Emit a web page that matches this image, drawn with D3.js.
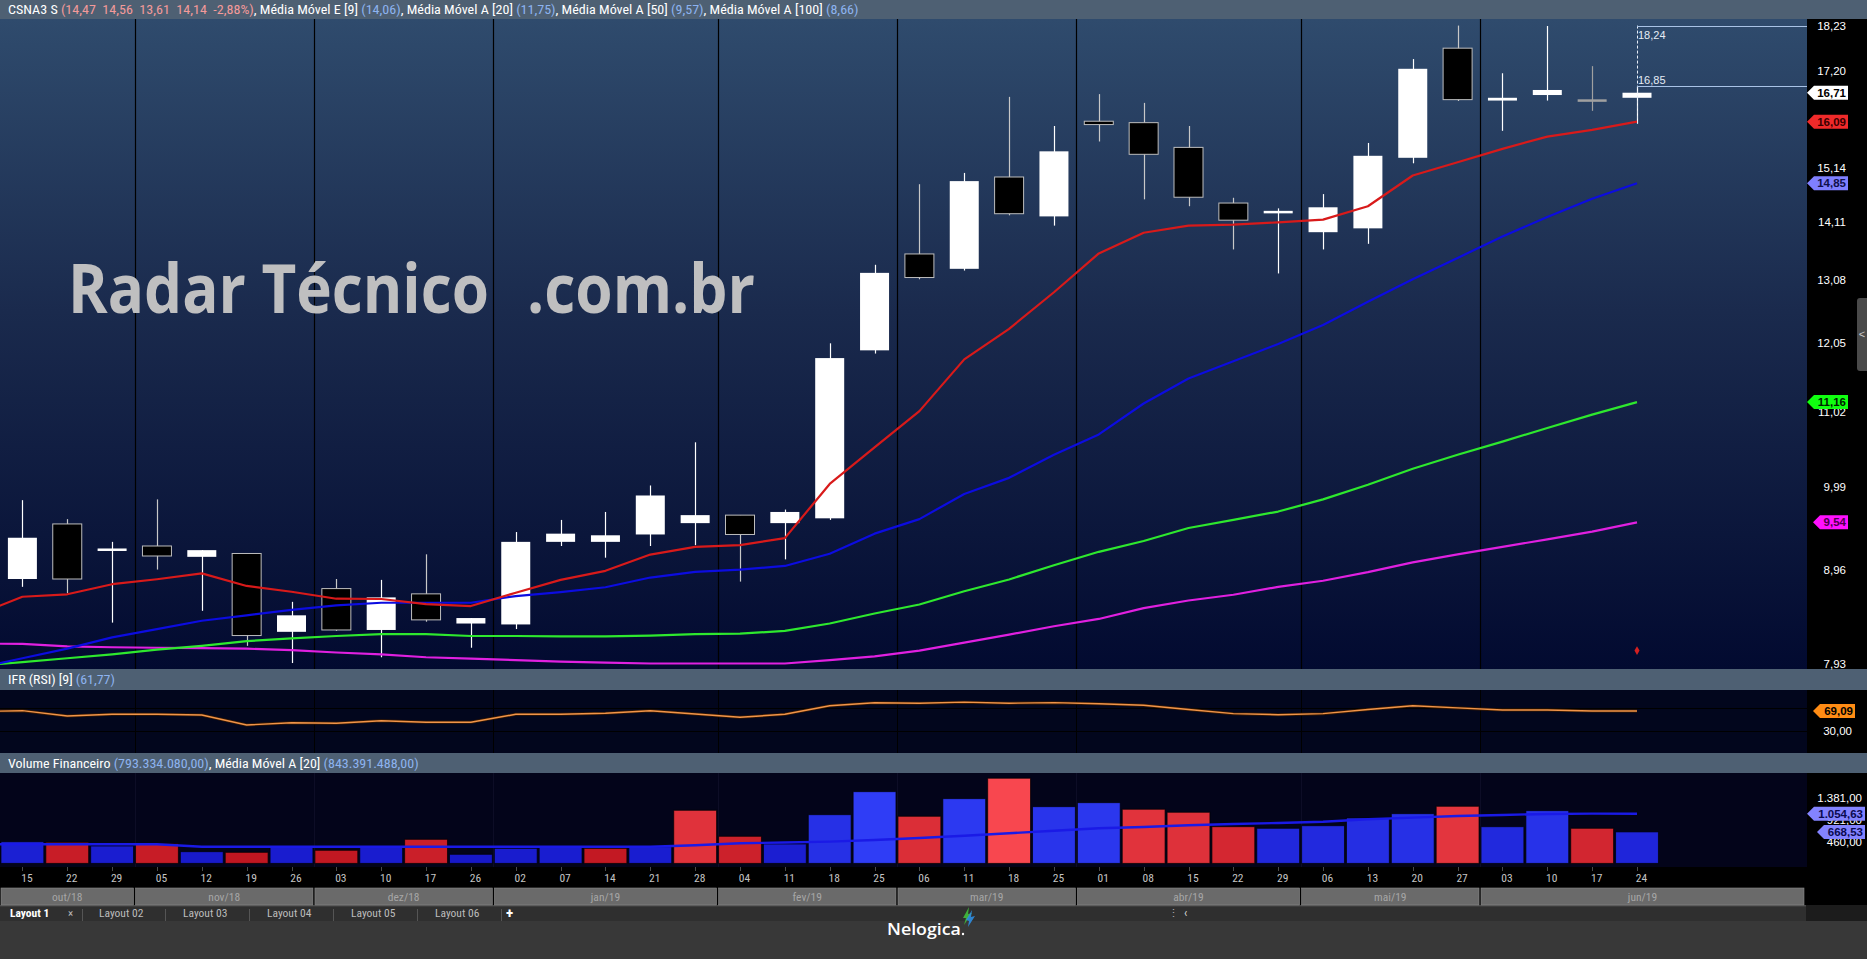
<!DOCTYPE html>
<html><head><meta charset="utf-8">
<script src="https://cdn.jsdelivr.net/npm/d3@7"></script>
<style>body{margin:0;background:#383838;overflow:hidden}svg{display:block}text{white-space:pre}</style>
</head><body>
<svg id="c" width="1867" height="959"></svg>
<script>
// ---------------- DATA ----------------
const dates = ["15","22","29","05","12","19","26","03","10","17","26","02","07","14","21","28","04","11","18","25","06","11","18","25","01","08","15","22","29","06","13","20","27","03","10","17","24"];
const monthLabels = ["out/18","nov/18","dez/18","jan/19","fev/19","mar/19","abr/19","mai/19","jun/19"];
const monthCounts = [3,4,4,5,4,4,5,4,4];

const open  = [8.86,9.52,9.19,9.25,9.12,9.16,8.27,8.75,8.29,8.69,8.36,8.35,9.30,9.30,9.39,9.53,9.63,9.53,9.59,11.94,13.54,13.28,14.97,14.22,16.10,16.07,15.56,14.47,14.29,13.93,14.00,15.35,17.71,16.54,16.66,16.54,16.60];
const high  = [9.82,9.58,9.30,9.83,9.20,9.16,8.60,8.86,8.85,9.15,8.42,9.42,9.57,9.67,10.01,10.59,9.63,9.70,12.05,13.35,14.83,15.05,16.62,16.00,16.68,16.49,16.00,14.57,14.37,14.64,15.65,17.46,18.24,17.14,18.23,17.30,16.85];
const low   = [8.77,8.70,8.37,8.97,8.50,8.12,7.94,8.28,8.00,8.38,8.10,8.30,9.25,9.11,9.25,9.26,8.83,9.09,9.57,11.89,13.10,13.25,14.24,14.05,15.68,14.54,14.41,13.62,13.20,13.62,13.72,15.24,16.53,15.90,16.54,16.32,16.05];
const close = [9.35,8.86,9.22,9.13,9.20,8.23,8.45,8.29,8.65,8.40,8.42,9.30,9.40,9.38,9.88,9.63,9.39,9.67,11.82,13.21,13.13,14.89,14.27,15.48,16.03,15.42,14.58,14.15,14.31,14.39,15.39,17.24,16.56,16.60,16.77,16.54,16.71];

// moving averages (value of the week before the first visible candle kept apart)
const ema9Prev = 8.46;
const ema9   = [8.657,8.685,8.80,8.857,8.925,8.78,8.714,8.635,8.632,8.575,8.553,8.703,8.85,8.955,9.147,9.239,9.26,9.345,10.03,10.52,11.03,11.80,12.28,12.88,13.55,13.92,14.05,14.07,14.11,14.16,14.41,15.00,15.26,15.53,15.78,15.92,16.09];
const sma20Prev = 7.89;
const sma20  = [7.99,8.09,8.21,8.30,8.39,8.45,8.51,8.56,8.59,8.59,8.59,8.665,8.71,8.765,8.877,8.943,8.97,9.012,9.157,9.40,9.58,9.90,10.11,10.42,10.70,11.14,11.51,11.77,12.04,12.34,12.72,13.10,13.47,13.85,14.21,14.55,14.85];
const sma50Prev = 7.91;
const sma50  = [7.95,7.99,8.03,8.08,8.12,8.17,8.20,8.225,8.245,8.245,8.225,8.225,8.22,8.22,8.23,8.245,8.25,8.28,8.36,8.47,8.57,8.72,8.855,9.02,9.18,9.31,9.47,9.57,9.675,9.83,10.02,10.23,10.42,10.60,10.79,10.98,11.16];
const sma100Prev = 8.145;
const sma100 = [8.14,8.115,8.105,8.10,8.095,8.09,8.075,8.05,8.03,8.00,7.985,7.97,7.955,7.945,7.935,7.935,7.935,7.935,7.97,8.01,8.07,8.155,8.24,8.33,8.41,8.53,8.615,8.68,8.77,8.84,8.94,9.055,9.15,9.24,9.33,9.425,9.54];

const rsiPrev = 68;
const rsi9 = [69.7,59.5,62.8,62.8,61.5,42.4,46.8,45.6,50.6,47.5,47.5,62.8,62.8,64.7,69.7,63.4,57.1,62.8,79.2,84.9,83.8,86,84,85,83,80,72,64,62,64,72,79,75,71,71,69,69.09];

// financial volume, millions
const volume = [461,448,369,418,249,235,341,278,341,511,193,320,354,320,354,1127,575,412,1034,1522,1000,1374,1807,1204,1289,1149,1085,779,745,800,964,1055,1212,779,1119,745,668.53];
const volMAPrev = 405;
const volumeMA20 = [405,405,405,405,354,354,354,354,354,354,354,354,354,354,354,384,427,444,461,497,539,588,639,694,745,773,809,837,858,885,936,970,1006,1028,1049,1055,1054.63];

const priceTicks  = [18.23,17.20,15.14,14.11,13.08,12.05,11.02,9.99,8.96,7.93];
const volumeTicks = [1381,921,460];
const rsiTicks    = [30];
const rsiGrid     = [75,30];
const measureLevels = [18.24,16.85];
const signalMarker = 8.07;

const headerMain = [["CSNA3 S ","#ffffff"],["(14,47  14,56  13,61  14,14  -2,88%)","#f39a9a"],[", Média Móvel E [9] ","#ffffff"],["(14,06)","#8db3ef"],[", Média Móvel A [20] ","#ffffff"],["(11,75)","#8db3ef"],[", Média Móvel A [50] ","#ffffff"],["(9,57)","#8db3ef"],[", Média Móvel A [100] ","#ffffff"],["(8,66)","#8db3ef"]];
const headerRsi = [["IFR (RSI) [9] ","#ffffff"],["(61,77)","#8db3ef"]];
const headerVol = [["Volume Financeiro ","#ffffff"],["(793.334.080,00)","#8db3ef"],[", Média Móvel A [20] ","#ffffff"],["(843.391.488,00)","#8db3ef"]];
const tabLabels = ["Layout 1","Layout 02","Layout 03","Layout 04","Layout 05","Layout 06"];

// ---------------- LAYOUT ----------------
const W = 1867, PR = 1807;
const MAIN = {top:19, bottom:669}, RSIP = {top:690, bottom:753}, VOLP = {top:773, bottom:867};
const FONT = "'Liberation Sans Narrow','Roboto Condensed','Liberation Sans',Arial,sans-serif";
const AXF = "'Liberation Sans',Arial,sans-serif";
const loc = d3.formatLocale({decimal:",", thousands:".", grouping:[3], currency:["",""]});
const f2 = loc.format(",.2f");

const svg = d3.select("#c");
const x = d3.scaleLinear().domain([0, dates.length-1]).range([22.4, 1637]);
const step = x(1) - x(0);
const y = d3.scaleLog().domain([7.93, 18.23]).range([664, 26]);
const yR = d3.scaleLinear().domain([0,100]).range([747.2, 694.8]);
const yV = d3.scaleLinear().domain([0,1381]).range([863.4, 798.3]);

const defs = svg.append("defs");
const gr = defs.append("linearGradient").attr("id","bg").attr("x1",0).attr("y1",0).attr("x2",0).attr("y2",1);
gr.append("stop").attr("offset","0%").attr("stop-color","#2f4b6d");
gr.append("stop").attr("offset","45%").attr("stop-color","#1a2a4d");
gr.append("stop").attr("offset","100%").attr("stop-color","#020a30");
defs.append("clipPath").attr("id","cm").append("rect").attr("x",0).attr("y",MAIN.top).attr("width",PR).attr("height",MAIN.bottom-MAIN.top);
defs.append("clipPath").attr("id","cr").append("rect").attr("x",0).attr("y",RSIP.top).attr("width",PR).attr("height",RSIP.bottom-RSIP.top);
defs.append("clipPath").attr("id","cv").append("rect").attr("x",0).attr("y",VOLP.top).attr("width",PR).attr("height",VOLP.bottom-VOLP.top);

function rect(g,x0,y0,w,h,fill){return g.append("rect").attr("x",x0).attr("y",y0).attr("width",w).attr("height",h).attr("fill",fill);}
function fit(t, target){const bb=t.node().getBBox(); if(bb.width>0){const s=target/bb.width; t.attr("transform",`translate(${bb.x},0) scale(${s},1) translate(${-bb.x},0)`);} }
function header(g, parts, x0, yb, size, target){
  const t = g.append("text").attr("x",x0).attr("y",yb).attr("font-family",FONT).attr("font-size",size);
  parts.forEach(p=>t.append("tspan").attr("fill",p[1]).text(p[0]));
  fit(t,target); return t;
}

// backgrounds
rect(svg,0,0,W,959,"#383838");
rect(svg,0,0,W,MAIN.top,"#4e6073");
rect(svg,0,MAIN.top,PR,MAIN.bottom-MAIN.top,"url(#bg)");
rect(svg,PR,MAIN.top,W-PR,MAIN.bottom-MAIN.top,"#000");
rect(svg,0,MAIN.bottom,W,RSIP.top-MAIN.bottom,"#4e6073");
rect(svg,0,RSIP.top,PR,RSIP.bottom-RSIP.top,"#02061d");
rect(svg,PR,RSIP.top,W-PR,RSIP.bottom-RSIP.top,"#000");
rect(svg,0,RSIP.bottom,W,VOLP.top-RSIP.bottom,"#4e6073");
rect(svg,0,VOLP.top,PR,VOLP.bottom-VOLP.top,"#03041a");
rect(svg,PR,VOLP.top,W-PR,VOLP.bottom-VOLP.top,"#000");
rect(svg,0,VOLP.bottom,W,905-VOLP.bottom,"#000");
rect(svg,0,905,1806,16,"#2f2f2f");
rect(svg,0,905,1806,1.5,"#4a4a4a");
rect(svg,1806,905,W-1806,16,"#1c1c1c");

// month boundaries
const bounds = []; let acc = 0;
monthCounts.forEach((c,i)=>{ if(i>0) bounds.push(acc); acc += c; });
const bx = bounds.map(b => Math.round(x(b-0.5))+0.5);

// gridlines
const grid = svg.append("g");
bx.forEach(v=>{
  grid.append("line").attr("x1",v).attr("x2",v).attr("y1",MAIN.top).attr("y2",MAIN.bottom).attr("stroke","#000").attr("stroke-width",1.2);
  grid.append("line").attr("x1",v).attr("x2",v).attr("y1",RSIP.top).attr("y2",RSIP.bottom).attr("stroke","#000");
  grid.append("line").attr("x1",v).attr("x2",v).attr("y1",VOLP.top).attr("y2",VOLP.bottom).attr("stroke","#0d0d26");
});
rsiGrid.forEach(v=>grid.append("line").attr("x1",0).attr("x2",PR).attr("y1",Math.round(yR(v))+0.5).attr("y2",Math.round(yR(v))+0.5).attr("stroke","#000"));

// watermark
const wm = svg.append("g").attr("fill","#bfbfc0").attr("font-family","'Open Sans',sans-serif").attr("font-weight","bold").attr("font-size",68);
fit(wm.append("text").attr("x",68).attr("y",313).text("Radar Técnico"),421);
fit(wm.append("text").attr("x",527).attr("y",313).text(".com.br"),228);

// ---------------- MAIN: candles ----------------
const main = svg.append("g").attr("clip-path","url(#cm)");
const candles = d3.range(dates.length).map(i=>({i,o:open[i],h:high[i],l:low[i],c:close[i]}));
const bw = 29;
candles.forEach(d=>{
  const up = d.c > d.o, dn = d.c < d.o;
  const wc = up ? "#ffffff" : dn ? "#c8c8c8" : "#a0a0a0";
  main.append("line").attr("x1",Math.round(x(d.i))+0.5).attr("x2",Math.round(x(d.i))+0.5)
    .attr("y1",y(d.h)).attr("y2",y(d.l)).attr("stroke",wc).attr("stroke-width",1.2);
  const top = y(Math.max(d.o,d.c)), bot = y(Math.min(d.o,d.c));
  const h = Math.max(2.5, bot-top);
  const yy = h === bot-top ? top : (top+bot)/2 - h/2;
  const r = main.append("rect").attr("x",x(d.i)-bw/2).attr("y",yy).attr("width",bw).attr("height",h);
  if(up) r.attr("fill","#fff");
  else if(dn) r.attr("fill","#000").attr("stroke","#bdbdbd").attr("stroke-width",1);
  else r.attr("fill","#a0a0a0");
});

// moving averages
function maLine(prev, arr, color){
  const pts = [prev].concat(arr);
  const ln = d3.line().x((d,k)=>x(k-1)).y(d=>y(d));
  main.append("path").attr("d",ln(pts)).attr("fill","none").attr("stroke",color).attr("stroke-width",2.2).attr("stroke-linejoin","round");
}
maLine(sma100Prev, sma100, "#e020e0");
maLine(sma50Prev, sma50, "#2ee82e");
maLine(sma20Prev, sma20, "#0c0ce0");
maLine(ema9Prev, ema9, "#d81a1a");

// signal marker
const last = dates.length-1;
main.append("path").attr("d",d3.symbol(d3.symbolDiamond,22)()).attr("transform",`translate(${x(last)},${y(signalMarker)})`).attr("fill","#d42020");

// measurement crosshair
const mg = svg.append("g");
mg.append("line").attr("x1",Math.round(x(last))+0.5).attr("x2",Math.round(x(last))+0.5)
  .attr("y1",y(measureLevels[0])).attr("y2",y(16.02)).attr("stroke","#e8eef8").attr("stroke-dasharray","3,2");
measureLevels.forEach((v,k)=>{
  const yy = Math.round(y(v))+0.5;
  mg.append("line").attr("x1",x(last)).attr("x2",PR).attr("y1",yy).attr("y2",yy).attr("stroke","#a9c3e6");
  mg.append("text").attr("x",x(last)+1).attr("y",k===0? yy+12 : yy-3).attr("fill","#e6ecf5").attr("font-family",AXF).attr("font-size",11).text(f2(v));
});

// price axis
const pa = svg.append("g").attr("font-family",AXF).attr("font-size",11.5).attr("fill","#fff").attr("text-anchor","end");
priceTicks.forEach(v=>pa.append("text").attr("x",1846).attr("y",y(v)+4).text(f2(v)));

function tag(g,tipX,yy,rightX,txt,bg,fg){
  const h=14;
  g.append("path").attr("d",`M${tipX},${yy}L${tipX+7},${yy-h/2}L${rightX},${yy-h/2}L${rightX},${yy+h/2}L${tipX+7},${yy+h/2}Z`).attr("fill",bg);
  g.append("text").attr("x",rightX-2).attr("y",yy+4).attr("text-anchor","end").attr("font-family",AXF).attr("font-weight","bold").attr("font-size",11.5).attr("fill",fg).text(txt);
}
const tags = svg.append("g");
tag(tags,1807,y(close[last]),1848,f2(close[last]),"#ffffff","#000");
tag(tags,1807,y(ema9[last]),1848,f2(ema9[last]),"#f02a2a","#3a0000");
tag(tags,1807,y(sma20[last]),1848,f2(sma20[last]),"#7f7fff","#10104a");
tag(tags,1807,y(sma50[last]),1848,f2(sma50[last]),"#10ff10","#002000");
tag(tags,1813,y(sma100[last]),1848,f2(sma100[last]),"#ff10ff","#4a004a");

// side handle
rect(svg,1857,298,12,73,"#4a4a4a").attr("rx",3);
svg.append("text").attr("x",1862).attr("y",338).attr("fill","#ccc").attr("font-family",AXF).attr("font-size",11).attr("text-anchor","middle").text("<");

// ---------------- RSI ----------------
const rg = svg.append("g").attr("clip-path","url(#cr)");
const rl = d3.line().x((d,k)=>x(k-1)).y(d=>yR(d));
const rpts = [rsiPrev].concat(rsi9);
rg.append("path").attr("d",rl(rpts)).attr("fill","none").attr("stroke","#3a1a00").attr("stroke-width",3);
rg.append("path").attr("d",rl(rpts)).attr("fill","none").attr("stroke","#f0944a").attr("stroke-width",1.4);
const ra = svg.append("g").attr("font-family",AXF).attr("font-size",11.5).attr("fill","#fff").attr("text-anchor","end");
rsiTicks.forEach(v=>ra.append("text").attr("x",1852).attr("y",yR(v)+4).text(f2(v)));
tag(svg.append("g"),1813,yR(rsi9[last]),1855,f2(rsi9[last]),"#ff8c14","#000");

// ---------------- VOLUME ----------------
const vg = svg.append("g").attr("clip-path","url(#cv)");
const vmax = d3.max(volume);
volume.forEach((v,i)=>{
  const upv = i===0 ? true : close[i] >= close[i-1];
  const t = Math.min(1, v/vmax);
  const col = upv ? d3.interpolateRgb("#1313c4","#3445ff")(t) : d3.interpolateRgb("#b80f1a","#f8474f")(t);
  vg.append("rect").attr("x",x(i)-step/2+1).attr("y",yV(v)).attr("width",step-2).attr("height",yV(0)-yV(v))
    .attr("fill",col).attr("stroke","#000").attr("stroke-opacity",0.7).attr("stroke-width",1);
});
const vl = d3.line().x((d,k)=>x(k-1)).y(d=>yV(d));
vg.append("path").attr("d",vl([volMAPrev].concat(volumeMA20))).attr("fill","none").attr("stroke","#1a1ae6").attr("stroke-width",2.4);
const va = svg.append("g").attr("font-family",AXF).attr("font-size",11.5).attr("fill","#fff").attr("text-anchor","end");
volumeTicks.forEach(v=>va.append("text").attr("x",1862).attr("y",yV(v)+4).text(f2(v)));
const vt = svg.append("g");
tag(vt,1807,yV(volumeMA20[last]),1865,f2(volumeMA20[last]),"#8383ff","#0a0a50");
tag(vt,1817,yV(volume[last]),1865,f2(volume[last]),"#8383ff","#0a0a50");

// ---------------- HEADERS ----------------
header(svg, headerMain, 8, 14, 12.5, 852);
header(svg, headerRsi, 8, 684, 12.5, 107);
header(svg, headerVol, 8, 768, 12.5, 411);

// ---------------- DATE AXIS ----------------
const da = svg.append("g");
dates.forEach((d,i)=>{
  da.append("line").attr("x1",Math.round(x(i))+0.5).attr("x2",Math.round(x(i))+0.5).attr("y1",867).attr("y2",871).attr("stroke","#4a4a4a");
  da.append("text").attr("x",x(i)+4.5).attr("y",882).attr("text-anchor","middle").attr("font-family",FONT).attr("font-size",11.5).attr("fill","#c4c4c4").text(d);
});
let s = 0;
monthLabels.forEach((m,k)=>{
  const x0 = k===0 ? 0 : x(s-0.5);
  const x1 = k===monthLabels.length-1 ? 1805 : x(s+monthCounts[k]-0.5);
  rect(da, x0+1, 888, x1-x0-2, 17, "#6a6a6a").attr("stroke","#8a8a8a").attr("stroke-width",0.6);
  da.append("text").attr("x",(x0+x1)/2).attr("y",901).attr("text-anchor","middle").attr("font-family",FONT).attr("font-size",11.5).attr("fill","#a6a6a6").text(m);
  s += monthCounts[k];
});

// ---------------- TABS ----------------
const tb = svg.append("g").attr("font-family",FONT).attr("font-size",11.5);
const tabX = [10,99,183,267,351,435];
tabLabels.forEach((t,k)=>{
  tb.append("text").attr("x",tabX[k]).attr("y",917).attr("fill",k===0?"#ffffff":"#bcbcbc").attr("font-weight",k===0?"bold":"normal").text(t);
});
tb.append("text").attr("x",68).attr("y",917).attr("fill","#bbb").attr("font-size",11).text("×");
[82,165,249,333,417,501].forEach(v=>tb.append("line").attr("x1",v+0.5).attr("x2",v+0.5).attr("y1",909).attr("y2",921).attr("stroke","#555"));
tb.append("text").attr("x",506).attr("y",918).attr("fill","#fff").attr("font-weight","bold").attr("font-size",15).text("+");
tb.append("text").attr("x",1168).attr("y",917).attr("fill","#aaa").attr("font-size",11).text("⋮");
tb.append("text").attr("x",1184).attr("y",917).attr("fill","#ddd").attr("font-size",12).text("‹");

// logo
const lg = svg.append("g");
fit(lg.append("text").attr("x",887).attr("y",935).attr("fill","#fff").attr("font-family","'Open Sans',sans-serif").attr("font-weight","600").attr("font-size",17).text("Nelogica"),74);
lg.append("path").attr("d","M963,918 L969,907 L968,914 L972,913 L964,925 L966,918 Z").attr("fill","#3fae3a");
lg.append("path").attr("d","M966,920 L972,910 L971,917 L975,916 L968,927 L969,921 Z").attr("fill","#2f8de0").attr("opacity",0.9);
lg.append("circle").attr("cx",963).attr("cy",934).attr("r",1.2).attr("fill","#fff");
</script>
</body></html>
